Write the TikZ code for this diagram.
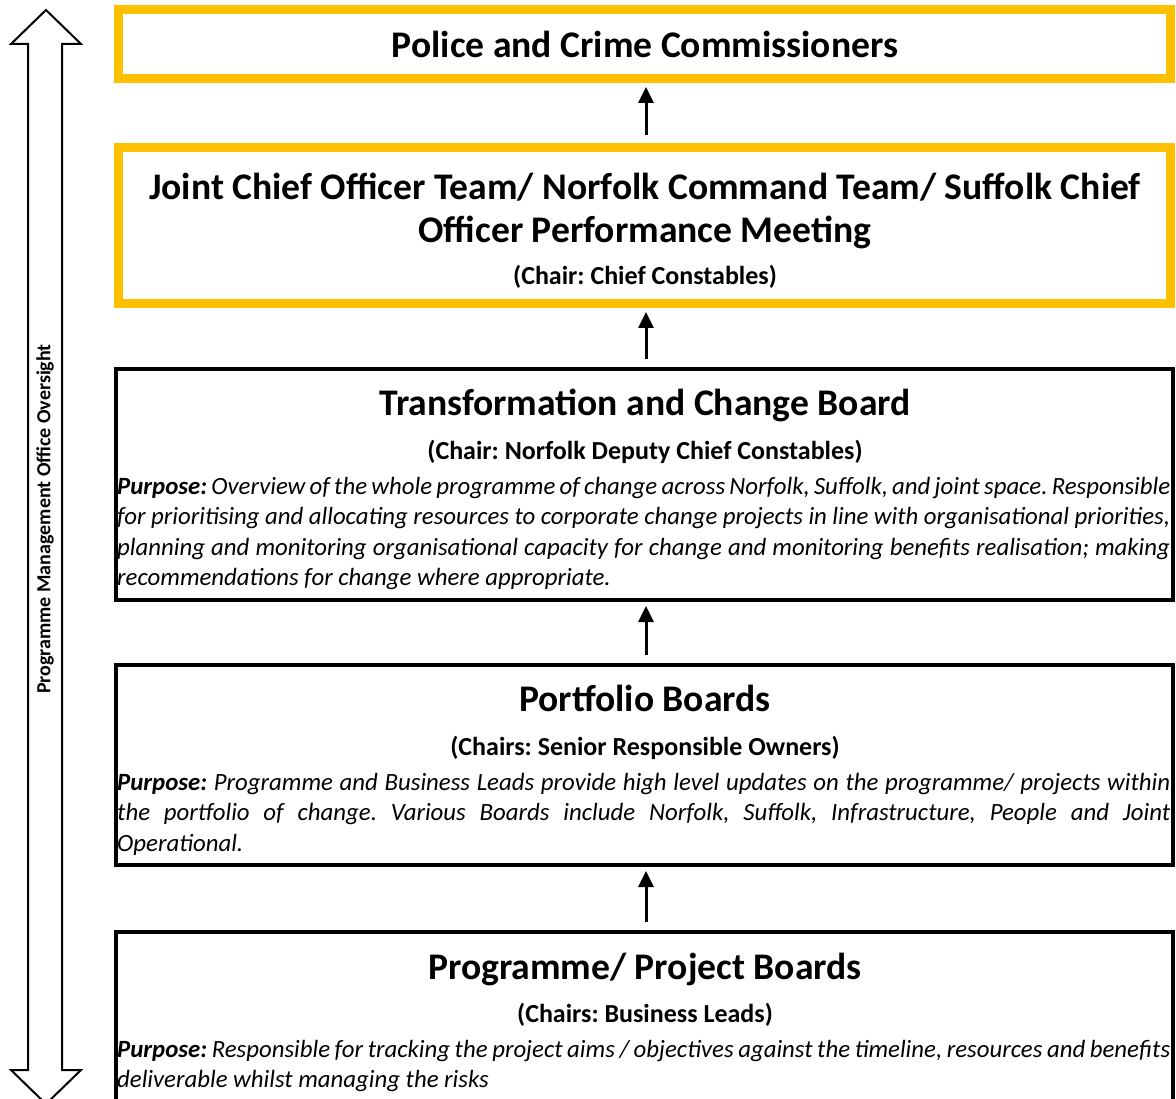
\documentclass[tikz,border=0pt]{standalone}
\usepackage{fontspec}
\setmainfont{Carlito}
\usetikzlibrary{arrows.meta}
\definecolor{gold}{HTML}{FFC000}
\newcommand{\purpose}{\textbf{Purpose:}}
\frenchspacing

\begin{document}
\begin{tikzpicture}[x=1pt,y=-1pt,
	goldbox/.style={draw=gold, line width=9pt, minimum width=1052pt},
	blackbox/.style={draw=black, line width=4pt, minimum width=1057pt},
	heading/.style={font=\fontsize{37.6}{43}\selectfont\bfseries, anchor=base, inner sep=0pt},
	chair/.style={font=\fontsize{26}{30}\selectfont\bfseries, anchor=base, inner sep=0pt},
	aim/.style={font=\fontsize{24.8}{30.5}\selectfont\itshape, text width=1053pt, align=justify, anchor=base west, inner sep=0pt},
	uparrow/.style={-{Triangle[length=16pt,width=15pt]}, line width=3pt, shorten <=8pt, shorten >=4pt}]
	\useasboundingbox (0,0) rectangle (1176,1099);
	\clip (0,0) rectangle (1176,1099);

	% oversight arrow down the left side
	\draw[line width=2pt, line join=miter] (46,10) -- (81,44) -- (62,44) -- (62,1070) -- (81,1070) -- (46,1104)
		-- (11,1070) -- (28,1070) -- (28,44) -- (11,44) -- cycle;
	\node[rotate=90, font=\fontsize{20}{24}\selectfont\bfseries, inner sep=0pt] (pmo) at (45,519) {Programme Management Office Oversight};

	% the boards
	\node[goldbox, minimum height=69pt] (pcc) at (644.5,44) {};
	\node[goldbox, minimum height=156pt] (jco) at (644.5,225.5) {};
	\node[blackbox, minimum height=231pt] (tcb) at (644.5,484.5) {};
	\node[blackbox, minimum height=200pt] (pfb) at (644.5,765) {};
	\node[blackbox, minimum height=183pt] (ppb) at (644.5,1023.5) {};

	\node[heading] (pcc-title) at (645,58) {Police and Crime Commissioners};

	\node[heading] (jco-title) at (645,200) {Joint Chief Officer Team/ Norfolk Command Team/ Suffolk Chief};
	\node[heading] (jco-title2) at (645,243) {Officer Performance Meeting};
	\node[chair] (jco-chair) at (645,285) {(Chair: Chief Constables)};

	\node[heading] (tcb-title) at (645,416) {Transformation and Change Board};
	\node[chair] (tcb-chair) at (645,459) {(Chair: Norfolk Deputy Chief Constables)};
	\node[aim] (tcb-aim) at (117,494) {\purpose{} Overview of the whole programme of change across Norfolk, Suffolk, and joint space. Responsible\linebreak
		for prioritising and allocating resources to corporate change projects in line with organisational priorities,\linebreak
		planning and monitoring organisational capacity for change and monitoring benefits realisation; making\linebreak
		recommendations for change where appropriate.};

	\node[heading] (pfb-title) at (645,711) {Portfolio Boards};
	\node[chair] (pfb-chair) at (645,755) {(Chairs: Senior Responsible Owners)};
	\node[aim] (pfb-aim) at (117,790) {\purpose{} Programme and Business Leads provide high level updates on the programme/ projects within\linebreak
		the portfolio of change. Various Boards include Norfolk, Suffolk, Infrastructure, People and Joint\linebreak
		Operational.};

	\node[heading] (ppb-title) at (645,979) {Programme/ Project Boards};
	\node[chair] (ppb-chair) at (645,1022) {(Chairs: Business Leads)};
	\node[aim] (ppb-aim) at (117,1057) {\purpose{} Responsible for tracking the project aims / objectives against the timeline, resources and benefits\linebreak
		deliverable whilst managing the risks};

	% reporting lines
	\draw[uparrow] ([xshift=1.5pt]jco.north) -- ([xshift=1.5pt]pcc.south);
	\draw[uparrow] ([xshift=1.5pt]tcb.north) -- ([xshift=1.5pt]jco.south);
	\draw[uparrow] ([xshift=1.5pt]pfb.north) -- ([xshift=1.5pt]tcb.south);
	\draw[uparrow] ([xshift=1.5pt]ppb.north) -- ([xshift=1.5pt]pfb.south);
\end{tikzpicture}
\end{document}
